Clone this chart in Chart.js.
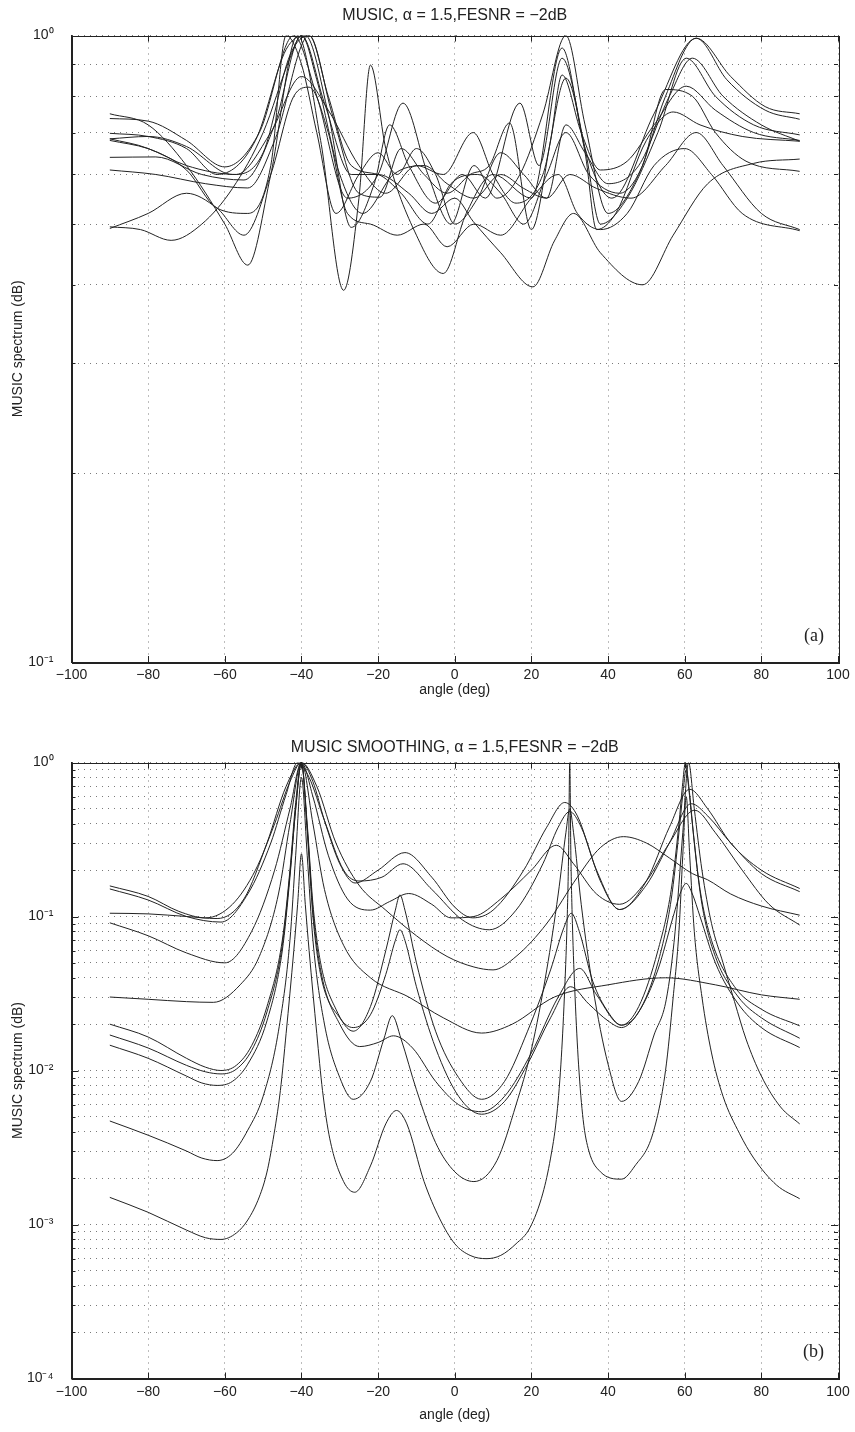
<!DOCTYPE html>
<html>
<head>
<meta charset="utf-8">
<script src="https://cdn.jsdelivr.net/npm/chart.js@4.4.1/dist/chart.umd.min.js"></script>
<style>
  body { margin: 0; background: #fff; }
  canvas { position: absolute; left: 0; }
  #top { top: 0; }
  #bottom { top: 720px; }
</style>
</head>
<body>
<canvas id="top" width="855" height="710"></canvas>
<canvas id="bottom" width="855" height="712"></canvas>
<script>
// tick values
const xTicks = [-100, -80, -60, -40, -20, 0, 20, 40, 60, 80, 100];
const yTicksTop = [0.1, 0.2, 0.3, 0.4, 0.5, 0.6, 0.7, 0.8, 0.9, 1];
const mantissas = [1, 2, 3, 4, 5, 6, 7, 8, 9];
const decadesBottom = [-4, -3, -2, -1];

// (a) MUSIC, [angle (deg), normalised spectrum]
const t1 = [[-90,.75],[-80,.72],[-70,.62],[-60,.5],[-54,.43],[-48,.6],[-41,1],[-35,.68],[-29,.392],[-25,.55],[-22,.897],[-18,.66],[-10,.48],[-3,.417],[3,.52],[10,.6],[20,.55],[28,.955],[34,.66],[41,.55],[52,.75],[63,.99],[72,.86],[81,.77],[90,.75]];
const t2 = [[-90,.737],[-80,.73],[-70,.68],[-60,.617],[-51,.7],[-42,1],[-36,.8],[-28,.55],[-20,.6],[-13.5,.78],[-7,.6],[-1,.5],[5,.62],[11,.55],[17,.6],[23,.75],[29,1],[34,.72],[40,.52],[48,.6],[55,.8],[63,.99],[71,.85],[81,.76],[90,.735]];
const t3 = [[-90,.698],[-80,.69],[-70,.66],[-62,.6],[-52,.68],[-44,.95],[-39,1],[-33,.75],[-27,.494],[-21,.58],[-17,.72],[-12,.62],[-5,.54],[2,.6],[8,.55],[17,.78],[22,.62],[28,.92],[34,.66],[38,.5],[45,.55],[53,.7],[60.4,.92],[68,.8],[78,.72],[90,.694]];
const t4 = [[-90,.684],[-80,.69],[-70,.665],[-58,.6],[-50,.65],[-43,.93],[-38,1],[-32,.75],[-25,.56],[-19.5,.552],[-14,.66],[-8,.6],[-2,.56],[4,.6],[9,.62],[14.3,.725],[20,.49],[25,.68],[28,.865],[33,.7],[38,.61],[45,.63],[52,.72],[60.4,.83],[68,.76],[78,.7],[90,.68]];
const t5 = [[-90,.68],[-80,.66],[-70,.62],[-57,.6],[-48,.7],[-40,.86],[-33,.76],[-25,.62],[-18,.56],[-10,.62],[-3,.6],[4.8,.7],[10,.6],[16,.54],[23,.6],[29,.855],[34,.65],[37,.49],[42,.52],[50,.68],[57,.755],[64,.72],[75,.69],[90,.678]];
const t6 = [[-90,.639],[-78,.64],[-66,.6],[-55,.588],[-47,.72],[-40,1],[-34,.78],[-27,.6],[-20,.6],[-12,.56],[-6,.52],[0,.55],[4.8,.505],[12,.45],[20.4,.397],[26,.47],[31,.52],[38,.45],[49,.4],[57,.48],[66,.58],[78,.625],[90,.635]];
const t7 = [[-90,.61],[-78,.6],[-65,.58],[-54,.571],[-47,.68],[-38,1],[-33,.8],[-27,.62],[-20,.6],[-14,.56],[-7,.5],[-1,.58],[6,.6],[12,.56],[18,.5],[24,.6],[29,.7],[35,.6],[43,.56],[49,.62],[55,.82],[62,.8],[68,.7],[76,.63],[90,.607]];
const t8 = [[-90,.495],[-82,.49],[-74,.471],[-66,.5],[-58,.57],[-50,.7],[-43,.92],[-40,1],[-36,.85],[-30,.6],[-24,.52],[-16,.6],[-8,.62],[-2,.58],[5,.55],[12,.6],[18,.57],[24,.55],[30,.6],[37,.57],[46,.55],[55,.62],[63,.7],[70,.62],[80,.52],[90,.49]];
const t9 = [[-90,.492],[-80,.52],[-70,.56],[-62,.53],[-55,.48],[-48,.6],[-42,.8],[-38,.827],[-33,.7],[-28,.52],[-22,.5],[-15,.48],[-8,.5],[-2,.46],[5,.5],[12,.48],[20,.55],[27,.6],[32,.52],[38,.49],[45,.52],[52,.62],[60,.66],[67,.6],[75,.52],[90,.488]];
const t10 = [[-90,.684],[-80,.66],[-70,.61],[-62,.53],[-54,.52],[-48,.62],[-44,1],[-40,.9],[-36,.7],[-31,.52],[-25,.6],[-20,.65],[-15,.6],[-10,.66],[-5,.6],[0,.5],[6,.55],[12,.65],[18,.6],[24,.55],[29,.72],[34,.65],[40,.58],[48,.62],[56,.8],[62,.92],[70,.8],[80,.72],[90,.678]];

// (b) MUSIC smoothing
const b1 = [[-90,.158],[-80,.135],[-72,.108],[-65,.098],[-58,.12],[-52,.2],[-47,.4],[-43,.75],[-40,1],[-37,.75],[-34,.42],[-30,.22],[-26,.165],[-20,.2],[-13,.26],[-6,.18],[0,.115],[4.7,.098],[10,.11],[18,.2],[24,.38],[28.7,.55],[32,.45],[37,.2],[43,.111],[50,.17],[56,.38],[61.3,.67],[66,.5],[72,.3],[80,.2],[90,.152]];
const b2 = [[-90,.151],[-80,.128],[-70,.1],[-61,.092],[-54,.14],[-48,.3],[-44,.62],[-41,1],[-38,.8],[-34,.42],[-29,.2],[-25,.17],[-19,.18],[-13.5,.22],[-6,.15],[2,.095],[9,.082],[16,.11],[23,.22],[27,.38],[30,.48],[33,.38],[38,.17],[43,.111],[50,.16],[56,.3],[61.7,.54],[66,.45],[72,.3],[80,.19],[90,.145]];
const b3 = [[-90,.105],[-80,.104],[-70,.1],[-62,.097],[-55,.13],[-49,.3],[-44,.7],[-40,1],[-36,.7],[-31,.3],[-25,.16],[-18,.11],[-10,.075],[-2,.055],[5,.047],[10,.045],[16,.055],[24,.09],[32,.18],[38,.28],[44,.33],[50,.3],[56,.24],[62,.19],[66,.173],[72,.14],[80,.117],[90,.102]];
const b4 = [[-90,.091],[-80,.075],[-70,.058],[-60,.05],[-53,.08],[-47,.2],[-43,.5],[-40,1],[-37,.6],[-33,.25],[-28,.13],[-22,.11],[-17,.125],[-12,.141],[-6,.12],[-1,.098],[5,.1],[12,.13],[20,.2],[26.5,.29],[31,.22],[37,.14],[43,.12],[50,.17],[56,.3],[62.6,.49],[68,.35],[75,.2],[82,.12],[90,.088]];
const b5 = [[-90,.03],[-80,.029],[-70,.028],[-63,.0277],[-56,.036],[-51,.055],[-46,.14],[-43,.4],[-40,1],[-37,.4],[-34,.15],[-29,.065],[-22,.04],[-12,.03],[-3,.022],[7,.0175],[15,.02],[26,.03],[40,.036],[55,.04],[68,.036],[80,.031],[90,.029]];
const b6 = [[-90,.02],[-80,.0165],[-70,.012],[-65,.0105],[-61,.01],[-57,.0108],[-53,.0145],[-49,.026],[-45,.07],[-43,.2],[-41.5,.55],[-40,1],[-38.5,.4],[-37,.12],[-35,.05],[-31,.025],[-26.5,.018],[-22,.026],[-18,.06],[-15.5,.11],[-14.3,.138],[-13,.11],[-10,.05],[-5,.018],[1,.009],[7,.0065],[13,.0085],[19,.018],[25,.045],[28.5,.085],[30.4,.105],[32.5,.08],[36,.038],[40,.024],[43.5,.0197],[48,.026],[53,.06],[56.5,.15],[58.5,.4],[59.4,.7],[60.2,1],[61,.7],[62,.4],[64,.15],[67,.07],[73,.035],[80,.025],[90,.0195]];
const b7 = [[-90,.017],[-80,.014],[-70,.0108],[-65,.0098],[-61,.0095],[-57,.0102],[-53,.0135],[-49,.024],[-45,.065],[-43,.19],[-41.5,.5],[-40,1],[-38.5,.38],[-37,.11],[-35,.045],[-30,.02],[-24.8,.0143],[-20,.0152],[-16,.0168],[-11,.014],[-5,.0085],[1,.006],[7,.0054],[13,.0068],[20,.013],[27,.03],[32.6,.046],[37,.031],[43.5,.0197],[48,.024],[53,.05],[56.5,.13],[58.5,.35],[59.5,.62],[60.4,.9],[61.3,.62],[62.5,.3],[64.5,.12],[68,.055],[74,.03],[80,.022],[90,.0162]];
const b8 = [[-90,.0146],[-80,.012],[-70,.0092],[-66,.0083],[-62,.008],[-58,.0085],[-54,.011],[-49,.021],[-45,.06],[-43,.18],[-41.5,.5],[-40,1],[-38.5,.36],[-37,.1],[-35,.042],[-30,.022],[-26.5,.019],[-22,.023],[-18,.042],[-15.5,.07],[-14.3,.082],[-13,.07],[-10,.035],[-5,.014],[1,.0068],[7,.0052],[13,.0063],[19,.011],[25,.022],[30.2,.035],[35,.027],[40,.021],[43.5,.019],[48,.024],[53,.045],[57,.1],[59,.145],[60.4,.164],[62,.14],[64,.1],[68,.05],[74,.027],[80,.019],[90,.0141]];
const b9 = [[-90,.0047],[-80,.0038],[-70,.003],[-66,.0027],[-62,.0026],[-58,.0029],[-54,.0041],[-50,.0068],[-46,.018],[-43,.07],[-41.5,.25],[-40,.8],[-38.5,.25],[-37,.07],[-34,.02],[-30,.009],[-26.5,.0065],[-22,.0085],[-18.5,.016],[-16.3,.0227],[-14,.016],[-10,.0075],[-5,.0034],[0,.0022],[5,.0019],[11,.0026],[16,.006],[20,.0137],[24,.045],[27,.14],[29,.35],[30,.5],[31,.35],[33,.12],[36,.035],[40,.011],[43.5,.0063],[48,.0085],[52,.017],[55.2,.029],[57.5,.08],[59.5,.35],[61,1],[62.5,.5],[64.5,.2],[67,.09],[70,.05],[73,.028],[76,.016],[80,.0092],[85,.0058],[90,.0045]];
const b10 = [[-90,.0015],[-80,.0012],[-70,.00092],[-65,.00082],[-61,.0008],[-57,.00088],[-54,.00107],[-51,.00151],[-49,.00219],[-47.4,.00355],[-45.5,.0074],[-44,.0174],[-42,.06],[-41,.12],[-40,.255],[-39,.12],[-38,.06],[-36,.0174],[-34.5,.0074],[-32.6,.0036],[-29,.0019],[-26.1,.00162],[-22,.0024],[-18,.0045],[-15.2,.0055],[-12.5,.0045],[-8,.0019],[-4,.0011],[0,.00075],[4,.00063],[8.3,.0006],[12,.00063],[16,.00075],[19.6,.00095],[23,.0016],[25,.0027],[26.5,.0048],[27.7,.011],[28.6,.03],[29.3,.09],[29.7,.25],[30,1],[30.3,.25],[30.7,.09],[31.4,.03],[32.3,.011],[33.5,.0048],[35,.003],[38,.0022],[43.5,.00197],[47,.0024],[51.7,.0039],[55,.01],[57,.03],[58.5,.08],[59.5,.25],[60.4,.6],[61.3,.25],[62.5,.08],[64.5,.03],[67,.013],[70,.0068],[74.3,.0039],[78,.0027],[84,.0018],[90,.00147]];

const topCurves = [t1, t2, t3, t4, t5, t6, t7, t8, t9, t10];
const bottomCurves = [b1, b2, b3, b4, b5, b6, b7, b8, b9, b10];

const yTicksBottom = [];
decadesBottom.forEach(d => mantissas.forEach(m => yTicksBottom.push(m * Math.pow(10, d))));
yTicksBottom.push(1);

const supChars = {'0':'⁰','1':'¹','2':'²','3':'³','4':'⁴','5':'⁵','6':'⁶','7':'⁷','8':'⁸','9':'⁹','-':'⁻'};
function powerLabel(v) {
  const e = Math.log10(v);
  const r = Math.round(e);
  if (Math.abs(e - r) > 1e-6) return '';
  return '10' + String(r).split('').map(c => supChars[c]).join('');
}

const inkColor = '#222';
const fontFamily = '"Liberation Sans", Arial, sans-serif';

// box round the plot, inward ticks and the (a)/(b) tag
const frame = {
  id: 'frame',
  afterDraw(chart, args, opts) {
    const {ctx, chartArea: a, scales} = chart;
    ctx.save();
    ctx.strokeStyle = inkColor;
    ctx.lineWidth = 1;
    ctx.strokeRect(Math.round(a.left) + 0.5, Math.round(a.top) + 0.5,
      Math.round(a.right - a.left), Math.round(a.bottom - a.top));
    ctx.beginPath();
    scales.x.ticks.forEach(t => {
      const x = Math.round(scales.x.getPixelForValue(t.value)) + 0.5;
      ctx.moveTo(x, a.top); ctx.lineTo(x, a.top + 6);
      ctx.moveTo(x, a.bottom); ctx.lineTo(x, a.bottom - 6);
    });
    scales.y.ticks.forEach(t => {
      const y = Math.round(scales.y.getPixelForValue(t.value)) + 0.5;
      const len = powerLabel(t.value) ? 7 : 4;
      ctx.moveTo(a.left, y); ctx.lineTo(a.left + len, y);
      ctx.moveTo(a.right, y); ctx.lineTo(a.right - len, y);
    });
    ctx.stroke();
    ctx.font = '18px "Liberation Serif", serif';
    ctx.fillStyle = inkColor;
    ctx.textAlign = 'right';
    ctx.textBaseline = 'middle';
    ctx.fillText(opts.tag, a.right - 14, a.bottom - 26);
    ctx.restore();
  }
};

function makeChart(id, curves, title, yMin, yTickValues, tag, lay) {
  return new Chart(id, {
    type: 'line',
    data: {
      datasets: curves.map(c => ({
        data: c.map(p => ({x: p[0], y: p[1]})),
        borderColor: '#222',
        borderWidth: 1,
        pointRadius: 0,
        fill: false,
        cubicInterpolationMode: 'monotone',
      })),
    },
    options: {
      responsive: false,
      animation: false,
      devicePixelRatio: 1,
      layout: { padding: { left: 0, right: 17, top: 0, bottom: 0 } },
      plugins: {
        legend: { display: false },
        tooltip: { enabled: false },
        title: {
          display: true,
          text: title,
          fullSize: false,
          color: inkColor,
          font: { family: fontFamily, size: 16, weight: 'normal' },
          padding: { top: lay.titleTop, bottom: lay.titleBottom },
        },
        frame: { tag: tag },
      },
      scales: {
        x: {
          type: 'linear',
          min: -100,
          max: 100,
          afterBuildTicks: s => { s.ticks = xTicks.map(v => ({value: v})); },
          afterFit: s => { s.height = lay.xHeight; },
          ticks: {
            padding: 5,
            color: inkColor,
            font: { family: fontFamily, size: 14 },
            callback: v => (v < 0 ? '\u2212' + Math.abs(v) : String(v)),
          },
          grid: { color: '#7a7a7a', drawTicks: false },
          border: { display: true, color: inkColor, dash: [1, 5] },
          title: {
            display: true,
            text: 'angle (deg)',
            color: inkColor,
            font: { family: fontFamily, size: 14 },
            padding: { top: 0, bottom: lay.xTitleBottom },
          },
        },
        y: {
          type: 'logarithmic',
          min: yMin,
          max: 1,
          afterBuildTicks: s => { s.ticks = yTickValues.map(v => ({value: v})); },
          afterFit: s => { s.width = 71.5; },
          ticks: {
            autoSkip: false,
            padding: 18,
            color: inkColor,
            font: { family: fontFamily, size: 14 },
            callback: v => powerLabel(v),
          },
          grid: { color: '#7a7a7a', drawTicks: false },
          border: { display: true, color: inkColor, dash: [1, 5] },
          title: {
            display: true,
            text: 'MUSIC spectrum (dB)',
            color: inkColor,
            font: { family: fontFamily, size: 14 },
            padding: { top: 9.6, bottom: 0 },
          },
        },
      },
    },
    plugins: [frame],
  });
}

makeChart('top', topCurves, 'MUSIC, \u03b1 = 1.5,FESNR = \u22122dB', 0.1, yTicksTop, '(a)',
  { titleTop: 6, titleBottom: 10.3, xHeight: 48, xTitleBottom: 11.6 });
makeChart('bottom', bottomCurves, 'MUSIC SMOOTHING, \u03b1 = 1.5,FESNR = \u22122dB', 0.0001, yTicksBottom, '(b)',
  { titleTop: 18.4, titleBottom: 4.9, xHeight: 53.5, xTitleBottom: 8.6 });
</script>
</body>
</html>
